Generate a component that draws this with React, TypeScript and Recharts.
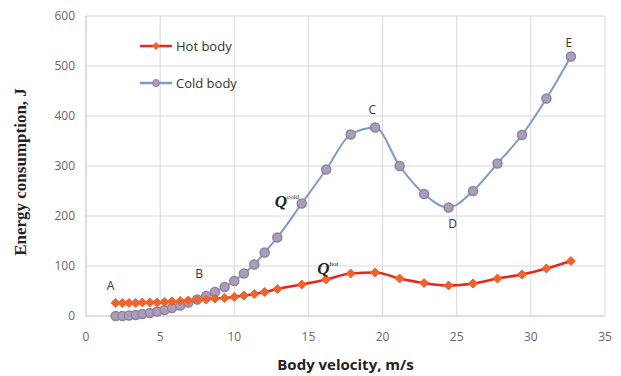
import React from 'react';
import {
  LineChart, Line, XAxis, YAxis, CartesianGrid, ReferenceDot,
} from 'recharts';

// Body velocity, m/s
const velocity = [
  2.0, 2.45, 2.9, 3.35, 3.8, 4.3, 4.8, 5.3, 5.8, 6.35, 6.9, 7.5, 8.1, 8.7, 9.35, 10.0,
  10.65, 11.35, 12.05, 12.9, 14.55, 16.2, 17.85, 19.5, 21.15, 22.8, 24.45, 26.1, 27.75,
  29.4, 31.05, 32.7,
];

// Energy consumption, J
const hotBody = [
  26, 26, 26, 26, 27, 27, 27, 28, 29, 30, 31, 32, 33, 35, 36, 38,
  41, 44, 48, 54, 63, 73, 85, 87, 75, 66, 61, 65, 75,
  83, 95, 110,
];

const coldBody = [
  0, 0, 1, 2, 4, 6, 9, 12, 16, 21, 27, 33, 40, 48, 58, 70,
  85, 103, 127, 157, 225, 293, 363, 377, 300, 244, 217, 250, 305,
  362, 435, 519,
];

const xTicks = [0, 5, 10, 15, 20, 25, 30, 35];
const yTicks = [0, 100, 200, 300, 400, 500, 600];

const data = velocity.map((v, i) => ({ v, hot: hotBody[i], cold: coldBody[i] }));

const HOT_LINE = '#e8261c';
const HOT_MARK = '#f2622a';
const COLD_LINE = '#7b9bc8';
const COLD_MARK = '#ad9dbb';
const COLD_EDGE = '#8a84a0';

function Diamond(props: any) {
  const { cx, cy } = props;
  if (cx == null || cy == null) return null;
  const s = 4.5;
  return (
    <polygon
      points={`${cx},${cy - s} ${cx + s},${cy} ${cx},${cy + s} ${cx - s},${cy}`}
      fill={HOT_MARK}
      stroke={HOT_MARK}
      strokeWidth={1}
    />
  );
}

function Circle(props: any) {
  const { cx, cy } = props;
  if (cx == null || cy == null) return null;
  return <circle cx={cx} cy={cy} r={4.5} fill={COLD_MARK} stroke={COLD_EDGE} strokeWidth={1.5} />;
}

function LegendBox() {
  const row = (label: string, color: string, mark: React.ReactNode) => (
    <div style={{ display: 'flex', alignItems: 'center', height: 20 }}>
      <svg width={36} height={12}>
        <line x1={2} y1={6} x2={34} y2={6} stroke={color} strokeWidth={2.5} />
        {mark}
      </svg>
      <span style={{ marginLeft: 2 }}>{label}</span>
    </div>
  );
  return (
    <div
      style={{
        position: 'absolute', left: 138, top: 36,
        fontFamily: 'Open Sans, sans-serif', fontSize: 13, color: '#333', lineHeight: '20px',
      }}
    >
      {row('Hot body', HOT_LINE, <polygon points="18,2 22,6 18,10 14,6" fill={HOT_MARK} />)}
      <div style={{ height: 17 }} />
      {row('Cold body', COLD_LINE, <circle cx={18} cy={6} r={3.5} fill={COLD_MARK} stroke={COLD_EDGE} />)}
    </div>
  );
}

const letter = (value: string, position: string, offset: number, dx = 0) => ({
  value,
  position,
  offset,
  dx,
  fill: '#333',
  fontSize: 12,
  fontFamily: 'Open Sans, sans-serif',
});

function QLabel({ viewBox, sup, dx, dy }: any) {
  const x = viewBox.cx ?? viewBox.x;
  const y = viewBox.cy ?? viewBox.y;
  return (
    <text x={x + dx} y={y + dy} fontFamily="Liberation Serif, serif" fontStyle="italic" fontWeight="bold" fontSize={17} fill="#222">
      Q
      <tspan fontSize={7} fontStyle="normal" fontWeight="normal" dy={-8}>{sup}</tspan>
    </text>
  );
}

function YTitle({ viewBox }: any) {
  const cx = 20;
  const cy = viewBox.y + viewBox.height / 2 + 6;
  return (
    <text
      x={cx}
      y={cy}
      transform={`rotate(-90 ${cx} ${cy})`}
      textAnchor="middle"
      dominantBaseline="central"
      fontFamily="Liberation Serif, serif"
      fontWeight="bold"
      fontSize={17}
      fill="#222"
    >
      Energy consumption, J
    </text>
  );
}

export default function App() {
  const tickStyle = { fill: '#666', fontSize: 12, fontFamily: 'Open Sans, sans-serif' };
  return (
    <div style={{ position: 'absolute', left: 0, top: 0, width: 621, height: 376, background: '#fff' }}>
      <LineChart width={621} height={376} data={data} margin={{ top: 16, right: 16, bottom: 0, left: 0 }}>
        <CartesianGrid stroke="#d9d9d9" strokeWidth={1} />
        <XAxis
          type="number"
          dataKey="v"
          domain={[0, 35]}
          ticks={xTicks}
          tick={tickStyle}
          tickLine={false}
          tickSize={0}
          tickMargin={16}
          axisLine={{ stroke: '#d0d0d0' }}
          height={60}
          label={{
            value: 'Body velocity, m/s',
            position: 'insideBottom',
            offset: 6,
            fill: '#222',
            fontSize: 15,
            fontWeight: 'bold',
            fontFamily: 'Open Sans, sans-serif',
          }}
        />
        <YAxis
          type="number"
          domain={[0, 600]}
          ticks={yTicks}
          tick={tickStyle}
          tickLine={false}
          tickSize={0}
          tickMargin={11}
          axisLine={{ stroke: '#d0d0d0' }}
          width={86}
          label={{ content: (p: any) => <YTitle {...p} /> }}
        />
        <Line
          type="monotone"
          dataKey="cold"
          name="Cold body"
          stroke={COLD_LINE}
          strokeWidth={2}
          dot={<Circle />}
          isAnimationActive={false}
        />
        <Line
          type="monotone"
          dataKey="hot"
          name="Hot body"
          stroke={HOT_LINE}
          strokeWidth={2.5}
          dot={<Diamond />}
          isAnimationActive={false}
        />
        <ReferenceDot x={velocity[0]} y={hotBody[0]} r={0} stroke="none" label={letter('A', 'top', 13, -5)} />
        <ReferenceDot x={velocity[11]} y={coldBody[11]} r={0} stroke="none" label={letter('B', 'top', 22, 2)} />
        <ReferenceDot x={velocity[23]} y={coldBody[23]} r={0} stroke="none" label={letter('C', 'top', 14, -3)} />
        <ReferenceDot x={velocity[26]} y={coldBody[26]} r={0} stroke="none" label={letter('D', 'bottom', 12, 4)} />
        <ReferenceDot x={velocity[31]} y={coldBody[31]} r={0} stroke="none" label={letter('E', 'top', 10, -2)} />
        <ReferenceDot
          x={velocity[20]}
          y={coldBody[20]}
          r={0}
          stroke="none"
          label={{ content: (p: any) => <QLabel {...p} sup="cold" dx={-27} dy={3} /> }}
        />
        <ReferenceDot
          x={velocity[21]}
          y={hotBody[21]}
          r={0}
          stroke="none"
          label={{ content: (p: any) => <QLabel {...p} sup="hot" dx={-9} dy={-6} /> }}
        />
      </LineChart>
      <LegendBox />
    </div>
  );
}
